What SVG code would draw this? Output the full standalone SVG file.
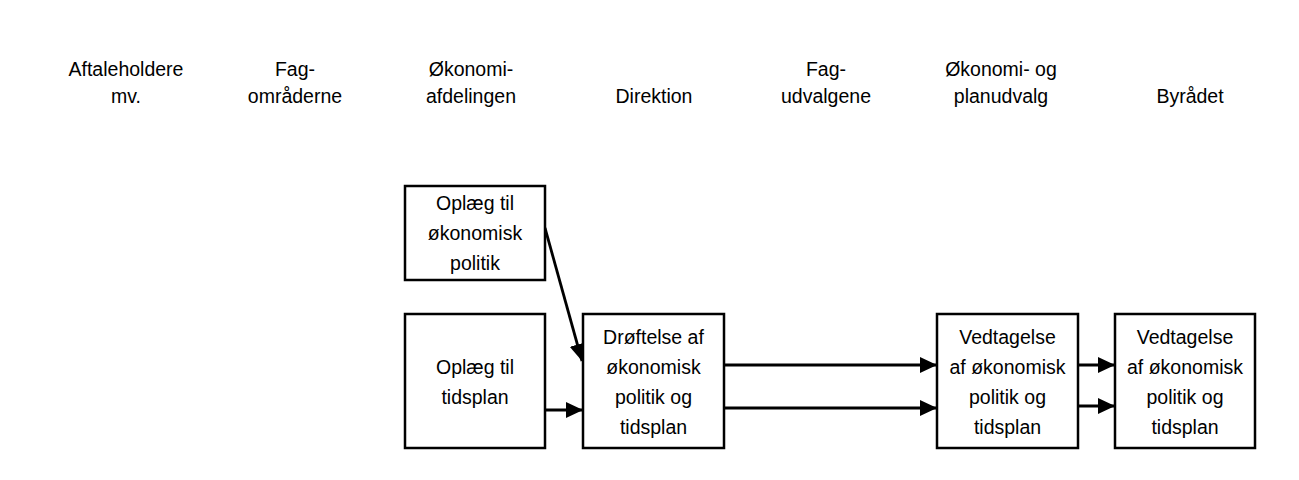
<svg xmlns="http://www.w3.org/2000/svg" width="1299" height="480" viewBox="0 0 1299 480">
<style>
text{font-family:"Liberation Sans",Arial,sans-serif;font-size:19.5px;fill:#000;text-anchor:middle}
.box{fill:#fff;stroke:#000;stroke-width:2.5}
.conn{stroke:#000;stroke-width:2.8;fill:none;marker-end:url(#arr)}
</style>
<defs>
<marker id="arr" markerUnits="userSpaceOnUse" markerWidth="20" markerHeight="20" refX="17" refY="8" orient="auto" viewBox="0 0 20 20">
<path d="M0,0 L17,8 L0,16 z" fill="#000"/>
</marker>
</defs>
<rect width="1299" height="480" fill="#fff"/>
<g id="headers">
<text x="126" y="76">Aftaleholdere</text><text x="126" y="103">mv.</text>
<text x="295" y="76">Fag-</text><text x="295" y="103">områderne</text>
<text x="471" y="76">Økonomi-</text><text x="471" y="103">afdelingen</text>
<text x="654" y="103">Direktion</text>
<text x="826" y="76">Fag-</text><text x="826" y="103">udvalgene</text>
<text x="1001" y="76">Økonomi- og</text><text x="1001" y="103">planudvalg</text>
<text x="1190" y="103">Byrådet</text>
</g>
<g id="connectors">
<line class="conn" x1="545" y1="228" x2="582" y2="361"/>
<line class="conn" x1="545" y1="410" x2="583" y2="410"/>
<line class="conn" x1="724" y1="365" x2="937" y2="365"/>
<line class="conn" x1="724" y1="408" x2="937" y2="408"/>
<line class="conn" x1="1078" y1="365" x2="1115" y2="365"/>
<line class="conn" x1="1078" y1="406" x2="1115" y2="406"/>
</g>
<g id="n1">
<rect class="box" x="405" y="186" width="140" height="94"/>
<text x="475" y="210">Oplæg til</text><text x="475" y="240">økonomisk</text><text x="475" y="270">politik</text>
</g>
<g id="n2">
<rect class="box" x="405" y="314" width="140" height="134"/>
<text x="475" y="374">Oplæg til</text><text x="475" y="404">tidsplan</text>
</g>
<g id="n3">
<rect class="box" x="583" y="314" width="141" height="134"/>
<text x="653.5" y="344">Drøftelse af</text><text x="653.5" y="374">økonomisk</text><text x="653.5" y="404">politik og</text><text x="653.5" y="434">tidsplan</text>
</g>
<g id="n4">
<rect class="box" x="937" y="314" width="141" height="134"/>
<text x="1007.5" y="344">Vedtagelse</text><text x="1007.5" y="374">af økonomisk</text><text x="1007.5" y="404">politik og</text><text x="1007.5" y="434">tidsplan</text>
</g>
<g id="n5">
<rect class="box" x="1115" y="314" width="140" height="134"/>
<text x="1185" y="344">Vedtagelse</text><text x="1185" y="374">af økonomisk</text><text x="1185" y="404">politik og</text><text x="1185" y="434">tidsplan</text>
</g>
</svg>
